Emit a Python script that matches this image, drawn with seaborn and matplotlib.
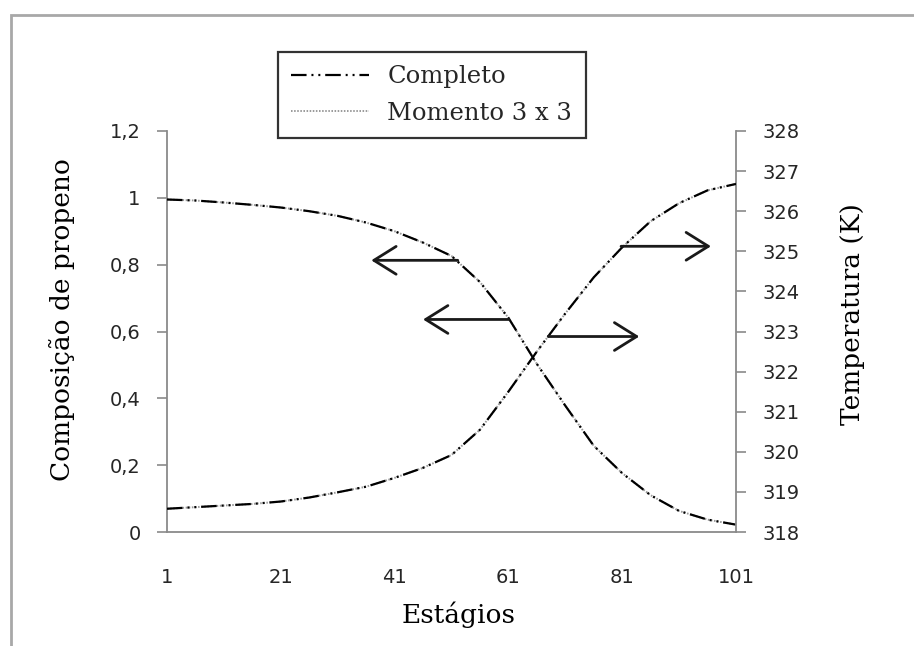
import matplotlib
matplotlib.use("Agg")
import matplotlib.pyplot as plt
from matplotlib.patches import Rectangle
import seaborn as sns
import pandas as pd

# Stages along the column (every 5th stage)
stages = [1, 6, 11, 16, 21, 26, 31, 36, 41, 46, 51,
          56, 61, 66, 71, 76, 81, 86, 91, 96, 101]

# Propene mole fraction profile
comp_completo = [0.995, 0.992, 0.986, 0.979, 0.971, 0.960, 0.946, 0.926, 0.900, 0.866, 0.826,
                 0.748, 0.641, 0.503, 0.378, 0.258, 0.176, 0.110, 0.063, 0.037, 0.022]
comp_momento = [0.995, 0.992, 0.986, 0.979, 0.971, 0.960, 0.946, 0.926, 0.900, 0.866, 0.826,
                0.748, 0.641, 0.503, 0.378, 0.258, 0.176, 0.110, 0.063, 0.037, 0.022]

# Temperature profile (K)
temp_completo = [318.58, 318.62, 318.66, 318.70, 318.76, 318.86, 318.99, 319.13, 319.35, 319.60, 319.92,
                 320.55, 321.50, 322.50, 323.45, 324.35, 325.10, 325.75, 326.20, 326.52, 326.68]
temp_momento = [318.58, 318.62, 318.66, 318.70, 318.76, 318.86, 318.99, 319.13, 319.35, 319.60, 319.92,
                320.55, 321.50, 322.50, 323.45, 324.35, 325.10, 325.75, 326.20, 326.52, 326.68]

series_names = ["Completo", "Momento 3 x 3"]

x_ticks = [1, 21, 41, 61, 81, 101]
comp_ticks = [0, 0.2, 0.4, 0.6, 0.8, 1.0, 1.2]
comp_ticklabels = ["0", "0,2", "0,4", "0,6", "0,8", "1", "1,2"]
temp_ticks = [318, 319, 320, 321, 322, 323, 324, 325, 326, 327, 328]
temp_ticklabels = [str(t) for t in temp_ticks]

# Arrows pointing each curve to its axis: (tail stage, tip stage, level, axis)
arrows = [
    (52.1, 36.9, 0.813, "left"),
    (61.1, 46.0, 0.636, "left"),
    (68.0, 84.0, 322.875, "right"),
    (80.8, 96.6, 325.125, "right"),
]

sns.set_style("white")
plt.rcParams["font.family"] = ["DejaVu Sans"]

W, H = 914, 646
fig = plt.figure(figsize=(W / 100, H / 100), dpi=100)
ax = fig.add_axes([167 / W, 1 - 532 / H, (736 - 167) / W, (532 - 131) / H])
ax2 = ax.twinx()

df = pd.DataFrame({
    "stage": stages,
    "comp_c": comp_completo, "comp_m": comp_momento,
    "temp_c": temp_completo, "temp_m": temp_momento,
})

dash_dot_dot = (0, (7, 2.2, 0.9, 2.2, 0.9, 2.2))
dotted = (0, (0.8, 0.8))
gray = "#9a9a9a"

# dotted series underneath, dash-dot series on top
sns.lineplot(data=df, x="stage", y="comp_m", ax=ax, color=gray, lw=1.4,
             linestyle=dotted, zorder=2)
sns.lineplot(data=df, x="stage", y="comp_c", ax=ax, color="black", lw=1.6,
             linestyle=dash_dot_dot, zorder=3)
sns.lineplot(data=df, x="stage", y="temp_m", ax=ax2, color=gray, lw=1.4,
             linestyle=dotted, zorder=2)
sns.lineplot(data=df, x="stage", y="temp_c", ax=ax2, color="black", lw=1.6,
             linestyle=dash_dot_dot, zorder=3)

ax.set_xlim(1, 101)
ax.set_ylim(0, 1.2)
ax2.set_ylim(318, 328)

spine_c = "#8a8a8a"
tick_kw = dict(direction="out", length=7, width=1.2, color=spine_c,
               labelsize=14, labelcolor="#262626")
ax.set_xticks(x_ticks)
ax.set_xticklabels([str(t) for t in x_ticks])
ax.set_yticks(comp_ticks)
ax.set_yticklabels(comp_ticklabels)
ax2.set_yticks(temp_ticks)
ax2.set_yticklabels(temp_ticklabels)
ax.tick_params(axis="x", pad=19, **tick_kw)
ax.tick_params(axis="y", pad=12, left=True, **tick_kw)
ax2.tick_params(axis="y", pad=12, right=True, **tick_kw)

for a in (ax, ax2):
    for side, sp in a.spines.items():
        sp.set_color(spine_c)
        sp.set_linewidth(1.3)
    a.spines["top"].set_visible(False)
ax.spines["right"].set_visible(False)
ax2.spines["left"].set_visible(False)
ax2.spines["bottom"].set_visible(False)

label_font = dict(family="DejaVu Serif", size=19, color="black")
ax.set_xlabel("Estágios", **label_font)
ax.set_ylabel("Composição de propeno", **label_font)
ax2.set_ylabel("Temperatura (K)", rotation=90, **label_font)
ax.xaxis.label.set(ha="center", va="center")
ax.xaxis.set_label_coords(0.512, -0.207)
ax.yaxis.label.set(ha="center", va="center")
ax.yaxis.set_label_coords(-0.1845, 0.529)
ax2.yaxis.label.set(ha="center", va="center")
ax2.yaxis.set_label_coords(1.2056, 0.544)

for tail, tip, level, side in arrows:
    target = ax if side == "left" else ax2
    target.annotate("", xy=(tip, level), xytext=(tail, level),
                    arrowprops=dict(arrowstyle="->,head_length=0.8,head_width=0.5",
                                    color="#1a1a1a", lw=2.0, mutation_scale=20,
                                    shrinkA=0, shrinkB=0))

handles = [ax.lines[1], ax.lines[0]]
leg = ax.legend(handles, series_names, loc="upper left",
                bbox_to_anchor=(278 / W, 1 - 52 / H), bbox_transform=fig.transFigure,
                borderaxespad=0, frameon=True, fancybox=False, borderpad=0.55,
                handlelength=3.2, handletextpad=0.75, labelspacing=0.55,
                prop=dict(family="DejaVu Serif", size=17.5))
leg.get_frame().set_edgecolor("black")
leg.get_frame().set_linewidth(1.6)
leg.set_zorder(10)

# outer chart frame (only top and left edges fall inside the canvas)
fig.patches.append(Rectangle((11 / W, -0.5), 2.0, 1.5 - 15 / H,
                             transform=fig.transFigure, fill=False,
                             edgecolor="#a8a8a8", lw=2.0, zorder=0))

fig.savefig("out.png", dpi=100)
